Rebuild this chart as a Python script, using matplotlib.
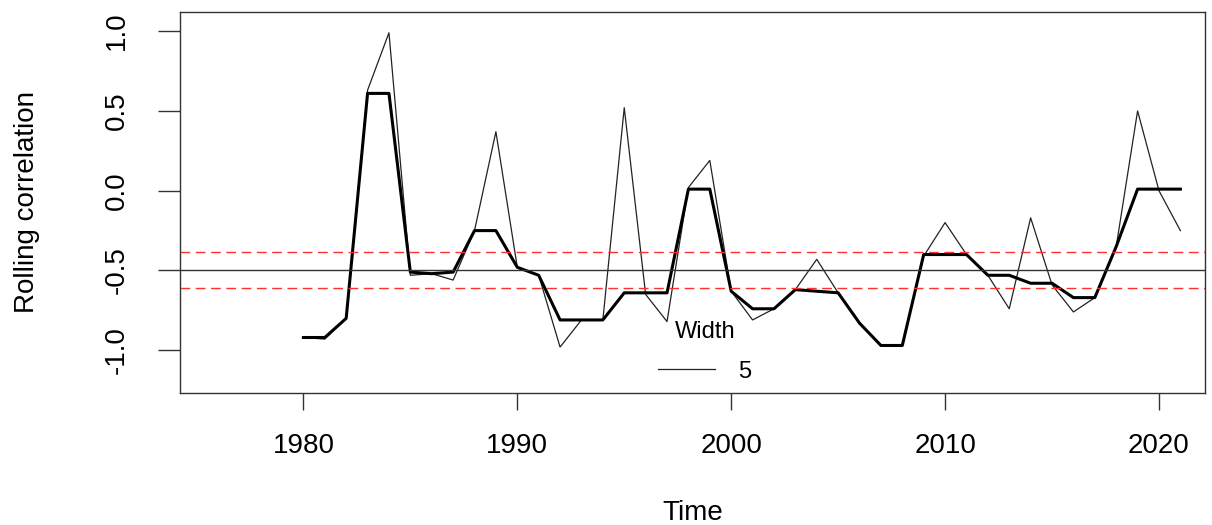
import matplotlib.pyplot as plt
import numpy as np

plt.rcParams['font.family'] = ['Liberation Sans', 'DejaVu Sans']

years = np.arange(1980, 2022)
# raw correlation (thin line)
corr_thin = [-0.92, -0.93, -0.80, 0.63, 0.99, -0.53, -0.52, -0.56, -0.25, 0.37,
             -0.48, -0.53, -0.98, -0.81, -0.81, 0.52, -0.65, -0.82, 0.02, 0.19,
             -0.63, -0.81, -0.74, -0.62, -0.43, -0.64, -0.83, -0.97, -0.97, -0.41,
             -0.20, -0.40, -0.53, -0.74, -0.17, -0.59, -0.76, -0.67, -0.35, 0.50,
             0.00, -0.25]
# smoothed correlation (thick line)
corr_thick = [-0.92, -0.92, -0.80, 0.61, 0.61, -0.51, -0.52, -0.51, -0.25, -0.25,
              -0.48, -0.53, -0.81, -0.81, -0.81, -0.64, -0.64, -0.64, 0.01, 0.01,
              -0.63, -0.74, -0.74, -0.62, -0.63, -0.64, -0.83, -0.97, -0.97, -0.40,
              -0.40, -0.40, -0.53, -0.53, -0.58, -0.58, -0.67, -0.67, -0.35, 0.01,
              0.01, 0.01]
mean_line = -0.497
band = [-0.386, -0.608]

fig = plt.figure(figsize=(12.12, 5.25), dpi=100)
ax = fig.add_axes([0.1485, 0.252, 0.8457, 0.7257])

thin, = ax.plot(years, corr_thin, color='#222222', lw=0.9, label='5')
ax.plot(years, corr_thick, color='black', lw=2.2)
ax.axhline(mean_line, color='#333333', lw=1.0)
for b in band:
    ax.axhline(b, color='#ff3030', lw=1.0, ls=(0, (7, 4)))

ax.set_xlim(1974.23, 2022.15)
ax.set_ylim(-1.266, 1.122)
ax.set_xticks([1980, 1990, 2000, 2010, 2020])
ax.set_yticks([-1.0, -0.5, 0.0, 0.5, 1.0])
ax.set_yticklabels(['-1.0', '-0.5', '0.0', '0.5', '1.0'])

for s in ax.spines.values():
    s.set_color('#333333')
    s.set_linewidth(1.0)
ax.tick_params(axis='x', length=12, width=1, color='#333333', pad=17, labelsize=20)
ax.tick_params(axis='y', length=16, width=1, color='#333333', pad=20, labelsize=20,
               labelrotation=90)
for t in ax.get_yticklabels():
    t.set_va('center')

ax.set_xlabel('Time', fontsize=20, va='center')
ax.xaxis.set_label_coords(0.5, -0.315)
ax.set_ylabel('Rolling correlation', fontsize=20, va='center')
ax.yaxis.set_label_coords(-0.149, 0.5)

leg = ax.legend(handles=[thin], title='Width', fontsize=17, title_fontsize=17,
                frameon=False, loc='upper center',
                bbox_to_anchor=(705 / 1212, 1 - 321 / 525),
                bbox_transform=fig.transFigure, borderaxespad=0, borderpad=0,
                handlelength=2.4, handletextpad=1.0, labelspacing=0.75)

fig.savefig('out.png', dpi=100)
